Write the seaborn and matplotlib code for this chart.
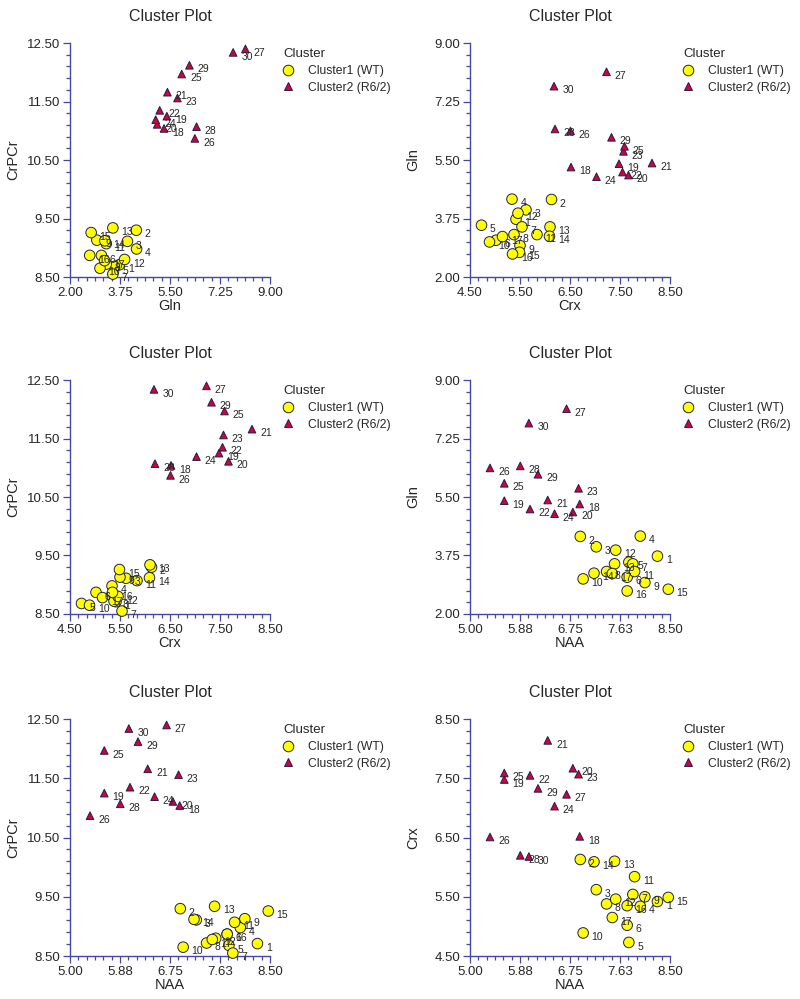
import numpy as np
import pandas as pd
import matplotlib
matplotlib.use('Agg')
import matplotlib.pyplot as plt
import seaborn as sns
from matplotlib.ticker import AutoMinorLocator, FixedLocator

# 样本编号与聚类
sample_id = list(range(1, 31))
cluster = ['Cluster1 (WT)'] * 17 + ['Cluster2 (R6/2)'] * 13

# 各代谢物的值
gln = [3.73, 4.32, 4.01, 4.33, 3.55, 3.10, 3.50, 3.27, 2.94, 3.05,
       3.27, 3.91, 3.50, 3.22, 2.74, 2.69, 3.21, 5.29, 5.39, 5.05,
       5.41, 5.14, 5.76, 5.00, 5.91, 6.37, 8.14, 6.43, 6.18, 7.71]
crx = [5.42, 6.13, 5.62, 5.34, 4.73, 5.02, 5.54, 5.38, 5.50, 4.89,
       5.84, 5.46, 6.10, 6.09, 5.49, 5.35, 5.15, 6.52, 7.48, 7.67,
       8.14, 7.55, 7.57, 7.03, 7.59, 6.51, 7.23, 6.20, 7.33, 6.18]
crpcr = [8.71, 9.30, 9.11, 8.98, 8.68, 8.87, 8.55, 8.72, 9.13, 8.65,
         9.07, 8.80, 9.34, 9.12, 9.26, 8.87, 8.78, 11.04, 11.25, 11.11,
         11.66, 11.35, 11.56, 11.19, 11.97, 10.87, 12.40, 11.07, 12.12, 12.34]
naa = [8.28, 6.93, 7.21, 7.98, 7.78, 7.75, 7.85, 7.39, 8.06, 6.98,
       7.88, 7.55, 7.53, 7.17, 8.47, 7.75, 7.49, 6.92, 5.60, 6.80,
       6.36, 6.05, 6.90, 6.48, 5.60, 5.35, 6.69, 5.88, 6.19, 6.03]

# 坐标轴刻度
gln_ticks = [2.00, 3.75, 5.50, 7.25, 9.00]
gln_labels = ['2.00', '3.75', '5.50', '7.25', '9.00']
crx_ticks = [4.50, 5.50, 6.50, 7.50, 8.50]
crx_labels = ['4.50', '5.50', '6.50', '7.50', '8.50']
crpcr_ticks = [8.50, 9.50, 10.50, 11.50, 12.50]
crpcr_labels = ['8.50', '9.50', '10.50', '11.50', '12.50']
naa_ticks = [5.00, 5.875, 6.75, 7.625, 8.50]
naa_labels = ['5.00', '5.88', '6.75', '7.63', '8.50']

df = pd.DataFrame({'ID': sample_id, 'Cluster': cluster, 'Gln': gln,
                   'Crx': crx, 'CrPCr': crpcr, 'NAA': naa})

axis_info = {'Gln': (gln_ticks, gln_labels), 'Crx': (crx_ticks, crx_labels),
             'CrPCr': (crpcr_ticks, crpcr_labels), 'NAA': (naa_ticks, naa_labels)}

# 六个子图 (x, y)
panels = [('Gln', 'CrPCr'), ('Crx', 'Gln'),
          ('Crx', 'CrPCr'), ('NAA', 'Gln'),
          ('NAA', 'CrPCr'), ('NAA', 'Crx')]

sns.set_style('ticks')
plt.rcParams['font.family'] = ['Liberation Sans', 'DejaVu Sans']

axis_color = '#4646a8'
c1, c2 = 'Cluster1 (WT)', 'Cluster2 (R6/2)'

fig = plt.figure(figsize=(8, 9.99), dpi=100)
W, H = 800, 999
lefts = [0.0875, 0.5875]
bottoms = [0.7227, 0.3854, 0.0430]
heights = [0.2342, 0.2342, 0.2372]
# 图例上边缘 (像素)
legend_top = [48, 385, 724]

for i, (xv, yv) in enumerate(panels):
    r, c = divmod(i, 2)
    ax = fig.add_axes([lefts[c], bottoms[r], 0.25, heights[r]])
    sns.scatterplot(data=df, x=xv, y=yv, hue='Cluster', style='Cluster',
                    size='Cluster', sizes={c1: 58, c2: 30},
                    markers={c1: 'o', c2: '^'},
                    palette={c1: '#ffff00', c2: '#d2003c'},
                    edgecolor='#20204a', linewidth=0.7, ax=ax,
                    clip_on=False, zorder=3)
    for _, row in df.iterrows():
        ax.annotate(str(row['ID']), (row[xv], row[yv]), xytext=(6, -3),
                    textcoords='offset points', fontsize=7.5, va='center',
                    ha='left', zorder=4)

    xt, xl = axis_info[xv]
    yt, yl = axis_info[yv]
    ax.set_xlim(xt[0], xt[-1])
    ax.set_ylim(yt[0], yt[-1])
    ax.xaxis.set_major_locator(FixedLocator(xt))
    ax.yaxis.set_major_locator(FixedLocator(yt))
    ax.set_xticklabels(xl)
    ax.set_yticklabels(yl)
    ax.xaxis.set_minor_locator(AutoMinorLocator(6))
    ax.yaxis.set_minor_locator(AutoMinorLocator(5))
    ax.tick_params(which='major', length=5, width=0.9, color=axis_color,
                   labelsize=9.5, pad=2)
    ax.tick_params(which='minor', length=3, width=0.9, color=axis_color)
    sns.despine(ax=ax)
    for s in ['left', 'bottom']:
        ax.spines[s].set_color(axis_color)
        ax.spines[s].set_linewidth(1.0)

    ax.set_title('Cluster Plot', fontsize=11.5, pad=16)
    ax.set_xlabel(xv, fontsize=10.5, labelpad=0)
    ax.set_ylabel(yv, fontsize=10.5)
    ax.yaxis.set_label_coords(-0.25, 0.5)

    lx = (283 + 400 * c) / W
    ly = 1 - legend_top[r] / H
    sns.move_legend(ax, 'upper left', bbox_to_anchor=(lx, ly),
                    bbox_transform=fig.transFigure,
                    frameon=False, title='Cluster', fontsize=8.7,
                    title_fontsize=9.5, borderpad=0, borderaxespad=0,
                    handlelength=0.8, handletextpad=1.3, labelspacing=0.4,
                    alignment='left')

fig.savefig('out.png', dpi=100)
